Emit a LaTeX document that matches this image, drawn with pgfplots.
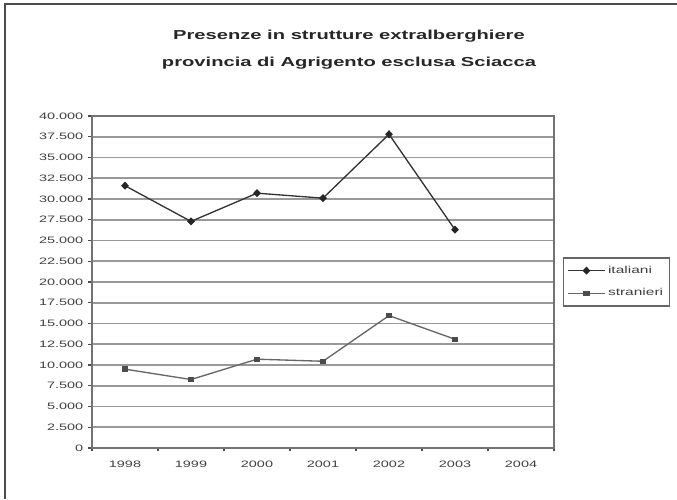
\documentclass[border=0pt]{standalone}
\usepackage{fontspec}
\setmainfont{Liberation Sans}
\usepackage{graphicx}
\usepackage{pgfplots}
\pgfplotsset{compat=1.18}

% the chart's lettering is set wide
\newcommand\wide[1]{\scalebox{1.55}[1]{#1}}

\begin{document}
\begin{tikzpicture}[x=0.75pt,y=0.75pt]
\useasboundingbox (0,0) rectangle (677,499);
% outer frame (top and left edges)
\draw[black!70, line width=1.3pt] (5,0) -- (5,495) -- (677,495);
% title
\node[anchor=base, font=\fontsize{9.75}{12}\selectfont\bfseries, text=black!85, inner sep=0pt]
  at (349,459) {\wide{Presenze in strutture extralberghiere}};
\node[anchor=base, font=\fontsize{9.75}{12}\selectfont\bfseries, text=black!85, inner sep=0pt]
  at (349,432) {\wide{provincia di Agrigento esclusa Sciacca}};

\begin{axis}[
  at={(69pt,38.25pt)}, anchor=south west,
  scale only axis, width=346.5pt, height=249pt,
  xmin=-0.5, xmax=6.5, ymin=0, ymax=40000,
  scaled y ticks=false,
  xtick={0,...,6},
  xticklabels={\wide{1998},\wide{1999},\wide{2000},\wide{2001},\wide{2002},\wide{2003},\wide{2004}},
  xticklabel style={yshift=-3pt},
  minor xtick={-0.5,0.5,...,6.5},
  ytick={0,2500,...,40000},
  yticklabel={\wide{\pgfmathprintnumber[fixed,1000 sep={.},assume math mode=true]{\tick}}},
  ticklabel style={font=\fontsize{7}{8}\selectfont, text=black!75},
  xtick pos=bottom, ytick pos=left,
  tick align=outside,
  major x tick style={draw=none},
  major tick length=3pt, minor tick length=2.5pt,
  tick style={black!70, line width=0.8pt},
  axis line style={black!55, line width=0.9pt},
  ymajorgrids,
  major grid style={black!40, line width=1.3pt},
  legend style={at={(1,0.5)}, anchor=west, xshift=6.75pt,
    draw=black!60, line width=0.9pt,
    font=\fontsize{7.5}{8}\selectfont, text=black!75,
    cells={anchor=west}, row sep=6pt, inner xsep=3pt, inner ysep=4pt},
  legend image code/.code={%
    \draw[mark repeat=2, mark phase=2]
      plot coordinates {(0cm,0cm) (0.48cm,0cm) (0.96cm,0cm)};},
]
\addplot[black!80, line width=1pt, mark=diamond*, mark size=2.3pt,
  mark options={xscale=1.3, solid, fill=black!85, draw=black!85}]
  coordinates {(0,31600) (1,27300) (2,30700) (3,30100) (4,37800) (5,26300)};
\addlegendentry{\wide{italiani}}
\addplot[black!60, line width=1pt, mark=square*, mark size=1.5pt,
  mark options={xscale=1.3, solid, fill=black!70, draw=black!70}]
  coordinates {(0,9500) (1,8250) (2,10700) (3,10450) (4,15950) (5,13100)};
\addlegendentry{\wide{stranieri}}
\end{axis}
\end{tikzpicture}
\end{document}
